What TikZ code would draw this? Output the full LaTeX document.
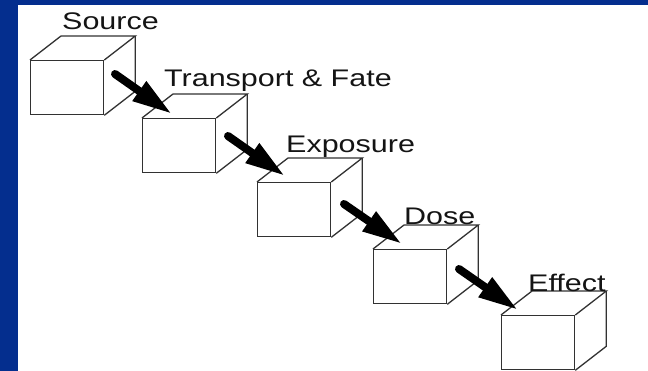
\documentclass[tikz,border=0pt]{standalone}
\usepackage{fontspec}
\setmainfont{Liberation Sans}
\newfontfamily\lblfont[FakeStretch=1.27]{Liberation Sans}
\usetikzlibrary{arrows.meta,calc}
\definecolor{bgblue}{RGB}{4,46,142}
\definecolor{edgegray}{RGB}{50,50,50}
\tikzset{
  front/.style={draw=edgegray, line width=1.3pt, rectangle, anchor=north west,
    minimum width=73pt, minimum height=54pt, inner sep=0pt, fill=white},
  edge/.style={draw=edgegray, line width=1.3pt, line join=miter},
  lbl/.style={anchor=base west, inner sep=0pt, text=black!92,
    font=\lblfont\fontsize{24}{28}\selectfont},
  bigarrow/.style={line width=8pt, line cap=round,
    -{Triangle[length=40pt,width=22pt]}, black}
}
\begin{document}
\begin{tikzpicture}[x=1pt,y=-1pt]
\useasboundingbox (0,0) rectangle (648,371);
\fill[bgblue] (0,0) rectangle (648,371);
\fill[white] (18,5) rectangle (648,371);
% boxes (front faces)
\node[front] (b1) at (30,60) {};
\node[front] (b2) at (142,118) {};
\node[front] (b3) at (257,182) {};
\node[front] (b4) at (373,249) {};
\node[front] (b5) at (501,315) {};
% top and side faces
\foreach \b in {b1,b2,b3,b4,b5}{
  \draw[edge] (\b.north west) -- ++(31,-24) -- ($(\b.north east)+(31,-24)$)
     -- (\b.north east);
  \draw[edge] ($(\b.north east)+(31,-24)$) -- ($(\b.south east)+(31,-24)$)
     -- (\b.south east);
}
% labels
\node[lbl] (l1) at (62,30) {Source};
\node[lbl] (l2) at (164,87) {Transport \& Fate};
\node[lbl] (l3) at (286,153) {Exposure};
\node[lbl] (l4) at (404,225) {Dose};
\node[lbl] (l5) at (528,292) {Effect};
% arrows
\coordinate (s1) at (115,74); \coordinate (e1) at (172,114);
\coordinate (s2) at (228,136); \coordinate (e2) at (285,176);
\coordinate (s3) at (344,204); \coordinate (e3) at (402,244);
\coordinate (s4) at (459,269); \coordinate (e4) at (518,310);
\draw[bigarrow] (s1) -- (e1);
\draw[bigarrow] (s2) -- (e2);
\draw[bigarrow] (s3) -- (e3);
\draw[bigarrow] (s4) -- (e4);
\end{tikzpicture}
\end{document}
